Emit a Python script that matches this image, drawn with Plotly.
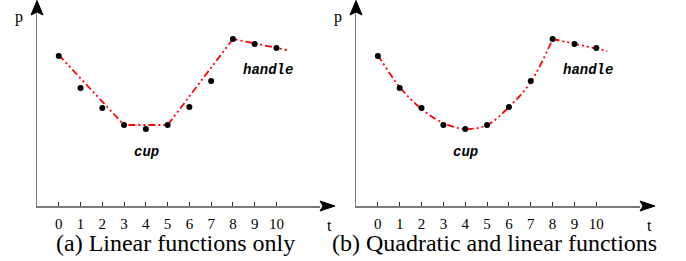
import plotly.graph_objects as go

W, H = 686, 261

# data
t_vals = [0, 1, 2, 3, 4, 5, 6, 7, 8, 9, 10]
p_vals = [150, 118, 98, 81, 77, 81, 99, 125, 167, 162, 158]

# (a) piecewise linear fit
lin_t = [0, 3, 5, 8, 10.48]
lin_p = [151, 81, 81, 167, 156]

# (b) quadratic cup + linear handle
quad_t = [0, 1, 2, 3, 4, 5, 6, 7, 8]
quad_p = [151, 119, 97, 83, 77, 81, 99, 124, 167]
hand_t = [8, 10.5]
hand_p = [167, 155]

tick_vals = [0, 1, 2, 3, 4, 5, 6, 7, 8, 9, 10]
tick_text = [str(v) for v in tick_vals]

captions = ["(a) Linear functions only", "(b) Quadratic and linear functions"]

RED = "#ff0000"
DASH = "7px,3px,2px,3px,2px,3px"
AXC = "#7a7a7a"
SERIF = "Times New Roman, Liberation Serif, Tinos, DejaVu Serif, serif"
MONO = "Courier New, Liberation Mono, Cousine, monospace"

fig = go.Figure()

def line_trace(x, y, xa, ya, shape="linear"):
    return go.Scatter(x=x, y=y, mode="lines", xaxis=xa, yaxis=ya,
                      line=dict(color=RED, width=1.8, dash=DASH, shape=shape),
                      showlegend=False, hoverinfo="skip")

def dot_trace(xa, ya):
    return go.Scatter(x=t_vals, y=p_vals, mode="markers", xaxis=xa, yaxis=ya,
                      marker=dict(color="black", size=6), showlegend=False,
                      cliponaxis=False)

fig.add_trace(line_trace(lin_t, lin_p, "x", "y"))
fig.add_trace(dot_trace("x", "y"))
fig.add_trace(line_trace(quad_t, quad_p, "x2", "y2", shape="spline"))
fig.add_trace(line_trace(hand_t, hand_p, "x2", "y2"))
fig.add_trace(dot_trace("x2", "y2"))

y_dom = [(H - 206) / H, (H - 13) / H]
tickfont = dict(family=SERIF, size=15, color="black")

def xaxis(dom, anchor):
    return dict(domain=dom, range=[-1, 12], anchor=anchor, showline=True,
                linecolor=AXC, linewidth=1.5, showgrid=False, zeroline=False,
                ticks="inside", ticklen=4, tickcolor="#333", tickwidth=1,
                tickvals=tick_vals, ticktext=tick_text, tickfont=tickfont,
                ticklabelstandoff=3, fixedrange=True)

def yaxis(anchor):
    return dict(domain=y_dom, range=[0, 193], anchor=anchor, showline=True,
                linecolor=AXC, linewidth=1.5, showgrid=False, zeroline=False,
                showticklabels=False, ticks="", fixedrange=True)

fig.update_layout(
    width=W, height=H, margin=dict(l=0, r=0, t=0, b=0),
    paper_bgcolor="white", plot_bgcolor="white",
    xaxis=xaxis([37 / W, 320 / W], "y"),
    yaxis=yaxis("x"),
    xaxis2=xaxis([356 / W, 640 / W], "y2"),
    yaxis2=yaxis("x2"),
)

def P(x, y):
    return x / W, 1 - y / H

shapes = []
for ax_x, tip_x in [(37, 335), (356, 655)]:
    # x-axis arrowhead
    pts = [P(tip_x, 206), P(tip_x - 15, 201), P(tip_x - 12, 206), P(tip_x - 15, 211)]
    path = "M " + " L ".join(f"{a},{b}" for a, b in pts) + " Z"
    shapes.append(dict(type="path", xref="paper", yref="paper", path=path,
                       fillcolor="black", line=dict(color="black", width=1)))
    # y-axis arrowhead
    pts = [P(ax_x, 0.5), P(ax_x - 6, 15), P(ax_x, 12), P(ax_x + 6, 15)]
    path = "M " + " L ".join(f"{a},{b}" for a, b in pts) + " Z"
    shapes.append(dict(type="path", xref="paper", yref="paper", path=path,
                       fillcolor="black", line=dict(color="black", width=1)))
fig.update_layout(shapes=shapes)

serif = dict(family=SERIF, size=16, color="black")
mono = dict(family=MONO, size=14, color="black")
ann = []
for px_, tx_ in [(19, 329), (338, 649)]:
    x, y = P(px_, 17)
    ann.append(dict(x=x, y=y, xref="paper", yref="paper", text="p", showarrow=False, font=serif,
                    xanchor="center", yanchor="middle"))
    x, y = P(tx_, 225)
    ann.append(dict(x=x, y=y, xref="paper", yref="paper", text="t", showarrow=False, font=serif,
                    xanchor="center", yanchor="middle"))
for xr, yr in [("x", "y"), ("x2", "y2")]:
    ann.append(dict(x=4.02, y=54, xref=xr, yref=yr, text="<b><i>cup</i></b>", showarrow=False, font=mono))
    ann.append(dict(x=9.6, y=136, xref=xr, yref=yr, text="<b><i>handle</i></b>", showarrow=False, font=mono))
for cx, txt in zip([175, 494], captions):
    ann.append(dict(x=cx / W, y=1 - 243 / H, xref="paper", yref="paper", text=txt,
                    showarrow=False, font=dict(family=SERIF, size=24, color="black"),
                    xanchor="center", yanchor="middle"))
fig.update_layout(annotations=ann)

fig.write_html("out.html", config={"displayModeBar": False, "staticPlot": True},
               post_script="document.body.style.margin='0';document.body.style.padding='0';")
